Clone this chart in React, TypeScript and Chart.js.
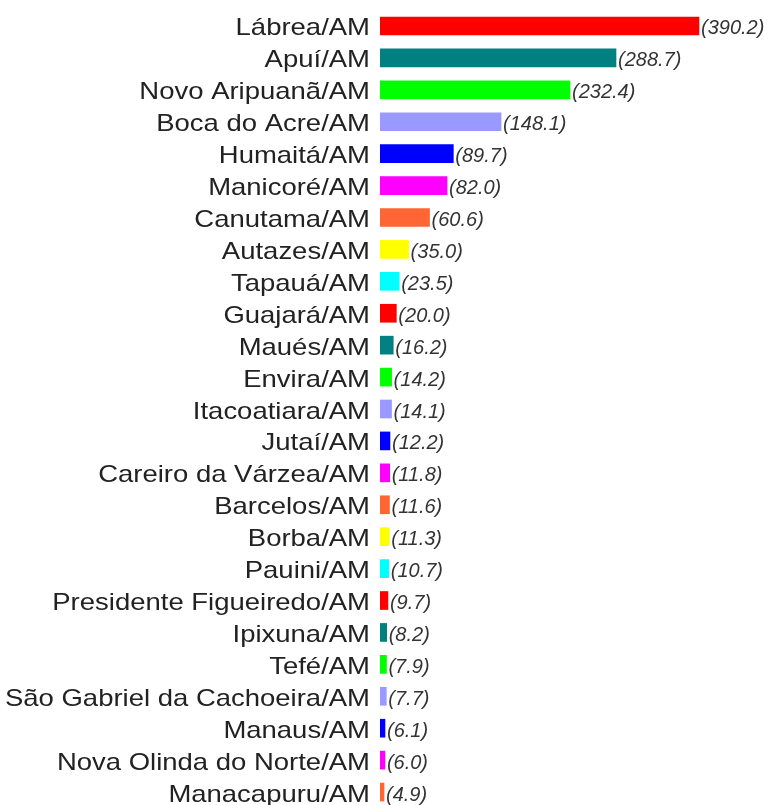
import React, { useEffect, useRef } from "react";
import { Chart, registerables } from "chart.js";

Chart.register(...registerables);

const categories: string[] = [
  "Lábrea/AM",
  "Apuí/AM",
  "Novo Aripuanã/AM",
  "Boca do Acre/AM",
  "Humaitá/AM",
  "Manicoré/AM",
  "Canutama/AM",
  "Autazes/AM",
  "Tapauá/AM",
  "Guajará/AM",
  "Maués/AM",
  "Envira/AM",
  "Itacoatiara/AM",
  "Jutaí/AM",
  "Careiro da Várzea/AM",
  "Barcelos/AM",
  "Borba/AM",
  "Pauini/AM",
  "Presidente Figueiredo/AM",
  "Ipixuna/AM",
  "Tefé/AM",
  "São Gabriel da Cachoeira/AM",
  "Manaus/AM",
  "Nova Olinda do Norte/AM",
  "Manacapuru/AM",
];

const values: number[] = [
  390.2, 288.7, 232.4, 148.1, 89.7, 82.0, 60.6, 35.0, 23.5, 20.0, 16.2, 14.2,
  14.1, 12.2, 11.8, 11.6, 11.3, 10.7, 9.7, 8.2, 7.9, 7.7, 6.1, 6.0, 4.9,
];

const palette: string[] = [
  "#FF0000",
  "#008080",
  "#00FF00",
  "#9999FF",
  "#0000FF",
  "#FF00FF",
  "#FF6633",
  "#FFFF00",
  "#00FFFF",
];

const xMax = 400;

const labelsPlugin = {
  id: "customLabels",
  afterDatasetsDraw(chart: any) {
    const ctx = chart.ctx as CanvasRenderingContext2D;
    const yScale = chart.scales.y;
    const meta = chart.getDatasetMeta(0);
    ctx.save();
    // category labels
    ctx.fillStyle = "#222222";
    ctx.font = '24px "Liberation Sans", Arial, sans-serif';
    ctx.textAlign = "right";
    ctx.textBaseline = "alphabetic";
    categories.forEach((c, i) => {
      const y = yScale.getPixelForValue(i);
      ctx.save();
      ctx.translate(370, y + 9.5);
      ctx.scale(1.145, 1);
      ctx.fillText(c, 0, 0);
      ctx.restore();
    });
    // value labels
    ctx.fillStyle = "#333333";
    ctx.font = 'italic 20px "Liberation Sans", Arial, sans-serif';
    ctx.textAlign = "left";
    meta.data.forEach((el: any, i: number) => {
      ctx.fillText("(" + values[i].toFixed(1) + ")", el.x + 2, el.y + 8.5);
    });
    ctx.restore();
  },
};

export default function App() {
  const ref = useRef<HTMLCanvasElement | null>(null);
  useEffect(() => {
    if (!ref.current) return;
    const chart = new Chart(ref.current, {
      type: "bar",
      data: {
        labels: categories,
        datasets: [
          {
            data: values,
            backgroundColor: values.map((_, i) => palette[i % palette.length]),
            borderWidth: 0,
            barThickness: 18,
          },
        ],
      },
      options: {
        indexAxis: "y",
        animation: false,
        responsive: false,
        maintainAspectRatio: false,
        devicePixelRatio: 1,
        layout: { padding: { left: 380, right: 65, top: 10, bottom: 4 } },
        plugins: {
          legend: { display: false },
          tooltip: { enabled: false },
          title: { display: false },
        },
        scales: {
          x: { display: false, min: 0, max: xMax, grid: { display: false } },
          y: { display: false, grid: { display: false } },
        },
      },
      plugins: [labelsPlugin],
    });
    return () => chart.destroy();
  }, []);
  return (
    <div
      style={{
        position: "fixed",
        left: 0,
        top: 0,
        width: 772,
        height: 805,
        overflow: "hidden",
        background: "#ffffff",
      }}
    >
      <canvas ref={ref} width={772} height={812} style={{ display: "block" }} />
    </div>
  );
}
